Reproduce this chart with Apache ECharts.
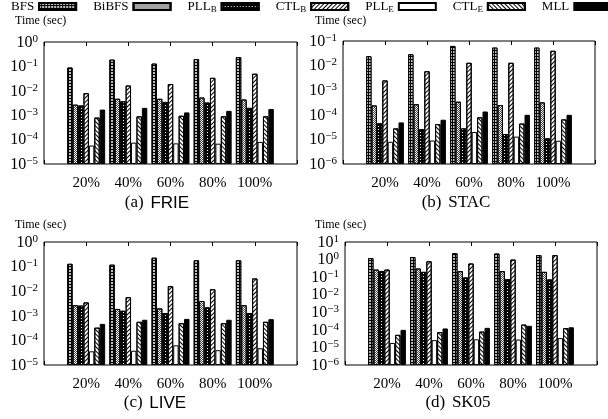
<!DOCTYPE html>
<html>
<head>
<meta charset="utf-8">
<script src="https://cdn.jsdelivr.net/npm/echarts@6/dist/echarts.min.js"></script>
<style>
html, body { margin: 0; padding: 0; background: #fff; }
#main { width: 608px; height: 419px; }
</style>
</head>
<body>
<div id="main"></div>
<script>
var categories = ['20%', '40%', '60%', '80%', '100%'];
var methods = ['BFS', 'BiBFS', 'PLL_B', 'CTL_B', 'PLL_E', 'CTL_E', 'MLL'];

// query time in seconds, one row per method (same order as methods)
var frie = [
  [0.09, 0.19, 0.13, 0.2, 0.24],
  [0.0027, 0.0047, 0.0047, 0.0053, 0.0044],
  [0.0025, 0.0037, 0.0035, 0.0033, 0.002],
  [0.008, 0.0165, 0.019, 0.034, 0.05],
  [5.7e-5, 7.5e-5, 7e-5, 6.8e-5, 8e-5],
  [8e-4, 9e-4, 9.5e-4, 9e-4, 9e-4],
  [0.0017, 0.002, 0.0013, 0.0015, 0.0018]
];
var stac = [
  [0.024, 0.029, 0.063, 0.054, 0.054],
  [2.4e-4, 2.7e-4, 3.4e-4, 2.5e-4, 3.2e-4],
  [4.5e-5, 2.6e-5, 2.8e-5, 1.65e-5, 1.1e-5],
  [0.0025, 0.0059, 0.013, 0.013, 0.04],
  [8e-6, 9e-6, 2e-5, 1.3e-5, 8.8e-6],
  [2.8e-5, 4.2e-5, 7.9e-5, 4.4e-5, 6.5e-5],
  [4.9e-5, 6.3e-5, 1.36e-4, 1e-4, 1e-4]
];
var live = [
  [0.13, 0.12, 0.23, 0.18, 0.18],
  [0.0027, 0.0019, 0.002, 0.004, 0.0027],
  [0.0026, 0.0016, 0.0013, 0.0022, 0.0013],
  [0.0035, 0.0057, 0.016, 0.012, 0.033],
  [3.6e-5, 3.8e-5, 6.3e-5, 4e-5, 4.8e-5],
  [3.3e-4, 5.7e-4, 5e-4, 5e-4, 5.7e-4],
  [4.7e-4, 6.9e-4, 7.5e-4, 6.9e-4, 7.3e-4]
];
var sk05 = [
  [1.22, 1.4, 2.3, 2.2, 1.8],
  [0.27, 0.31, 0.22, 0.22, 0.2],
  [0.22, 0.2, 0.096, 0.077, 0.074],
  [0.27, 0.8, 0.6, 1.0, 1.8],
  [1.8e-5, 2.6e-5, 2.9e-5, 2.8e-5, 3.4e-5],
  [5.2e-5, 7.4e-5, 8e-5, 2e-4, 1.25e-4],
  [1e-4, 1.2e-4, 1.3e-4, 1.7e-4, 1.4e-4]
];

var SERIF = '"Liberation Serif", "DejaVu Serif", serif';
var SANS = '"Liberation Sans", "DejaVu Sans", sans-serif';

var panels = [
  { data: frie, tag: '(a)', name: 'FRIE', sans: true, lo: -5, hi: 0,
    grid: { left: 44, top: 42, width: 253, height: 122 }, tx: 15, ty: 21, sx: 157, sy: 203 },
  { data: stac, tag: '(b)', name: 'STAC', sans: false, lo: -6, hi: -1,
    grid: { left: 343, top: 41, width: 252, height: 123 }, tx: 315, ty: 21, sx: 456, sy: 203 },
  { data: live, tag: '(c)', name: 'LIVE', sans: true, lo: -5, hi: 0,
    grid: { left: 44, top: 242, width: 253, height: 123 }, tx: 15, ty: 225, sx: 155, sy: 403 },
  { data: sk05, tag: '(d)', name: 'SK05', sans: false, lo: -6, hi: 1,
    grid: { left: 345, top: 242, width: 252, height: 123 }, tx: 315, ty: 225, sx: 458, sy: 403 }
];

// fill + hatch for each method
var styles = {
  BFS:   { color: '#000', decal: { symbol: 'circle', symbolSize: 1, dashArrayX: [2, 1], dashArrayY: [2, 1], color: '#fff' } },
  BiBFS: { color: '#fff', decal: { symbol: 'rect', symbolSize: 1, dashArrayX: [[1, 1], [0, 1, 1, 0]], dashArrayY: [1, 0], color: '#444' } },
  PLL_B: { color: '#000', decal: { symbol: 'rect', symbolSize: 1, dashArrayX: [1, 2], dashArrayY: [1, 2], color: '#fff' } },
  CTL_B: { color: '#fff', decal: { symbol: 'rect', symbolSize: 1, dashArrayX: [1, 0], dashArrayY: [1, 2], rotation: -Math.PI / 4, color: '#000' } },
  PLL_E: { color: '#fff' },
  CTL_E: { color: '#fff', decal: { symbol: 'rect', symbolSize: 1, dashArrayX: [1, 0], dashArrayY: [1, 2], rotation: Math.PI / 4, color: '#000' } },
  MLL:   { color: '#000' }
};

function legendName(n) {
  var p = n.split('_');
  return p.length > 1 ? '{n|' + p[0] + '}{s|' + p[1] + '}' : '{n|' + n + '}';
}

function powLabel(v) {
  var e = Math.round(Math.log10(v));
  return '{b|10}{s|' + (e < 0 ? '\u2212' + (-e) : e) + '}';
}

var xCats = [''].concat(categories).concat(['']);
var grids = [], xAxes = [], yAxes = [], series = [], graphics = [];

panels.forEach(function (p, gi) {
  grids.push(Object.assign({ show: true, borderColor: '#000', borderWidth: 1 }, p.grid));

  xAxes.push({
    type: 'category', gridIndex: gi, data: xCats, boundaryGap: false,
    axisLine: { show: false },
    axisTick: { inside: true, length: 4, lineStyle: { color: '#000' } },
    axisLabel: { color: '#000', fontFamily: SERIF, fontSize: 15, margin: 12, interval: 0 },
    splitLine: { show: false }
  });
  xAxes.push({
    type: 'category', gridIndex: gi, data: xCats, boundaryGap: false, position: 'top',
    axisLine: { show: false },
    axisTick: { inside: true, length: 4, lineStyle: { color: '#000' } },
    axisLabel: { show: false }, splitLine: { show: false }
  });

  var yBase = {
    type: 'log', logBase: 10, gridIndex: gi,
    min: Math.pow(10, p.lo), max: Math.pow(10, p.hi), interval: 1,
    startValue: Math.pow(10, p.lo),
    axisLine: { show: false },
    axisTick: { inside: true, length: 4, lineStyle: { color: '#000' } },
    splitLine: { show: false }, minorTick: { show: false }
  };
  yAxes.push(Object.assign({}, yBase, {
    position: 'left',
    axisLabel: {
      formatter: powLabel, margin: 6, color: '#000', hideOverlap: false,
      showMinLabel: true, showMaxLabel: true,
      rich: {
        b: { fontFamily: SERIF, fontSize: 16, lineHeight: 17, verticalAlign: 'bottom', color: '#000' },
        s: { fontFamily: SERIF, fontSize: 11, lineHeight: 8, verticalAlign: 'top', color: '#000' }
      }
    }
  }));
  yAxes.push(Object.assign({}, yBase, { position: 'right', axisLabel: { show: false } }));

  methods.forEach(function (m, mi) {
    series.push({
      type: 'bar', name: m, xAxisIndex: gi * 2, yAxisIndex: gi * 2,
      data: [null].concat(p.data[mi]).concat([null]),
      barGap: '0%', barCategoryGap: '10%',
      itemStyle: Object.assign({ borderColor: '#000', borderWidth: 1 }, styles[m]),
      silent: true
    });
  });

  graphics.push({
    type: 'text', x: p.tx, y: p.ty,
    style: { text: 'Time (sec)', font: '12px ' + SERIF, fill: '#000', textVerticalAlign: 'middle' }
  });
  graphics.push({
    type: 'text', x: p.sx, y: p.sy,
    style: {
      text: '{t|' + p.tag + '}  {n|' + p.name + '}',
      textAlign: 'center', textVerticalAlign: 'middle',
      rich: {
        t: { font: '17px ' + SERIF, fill: '#000' },
        n: { font: '17px ' + (p.sans ? SANS : SERIF), fill: '#000' }
      }
    }
  });
});

var chart = echarts.init(document.getElementById('main'));
chart.setOption({
  animation: false,
  backgroundColor: '#fff',
  legend: {
    left: 11, top: 0, padding: 0, width: 640, icon: 'rect', itemWidth: 37, itemHeight: 7, itemGap: 16,
    align: 'right', selectedMode: false, data: methods,
    formatter: legendName,
    textStyle: {
      color: '#000',
      rich: {
        n: { fontFamily: SERIF, fontSize: 13, lineHeight: 16, verticalAlign: 'middle', color: '#000' },
        s: { fontFamily: SERIF, fontSize: 9, lineHeight: 9, verticalAlign: 'bottom', color: '#000' }
      }
    }
  },
  grid: grids,
  xAxis: xAxes,
  yAxis: yAxes,
  series: series,
  graphic: graphics
});
</script>
</body>
</html>
